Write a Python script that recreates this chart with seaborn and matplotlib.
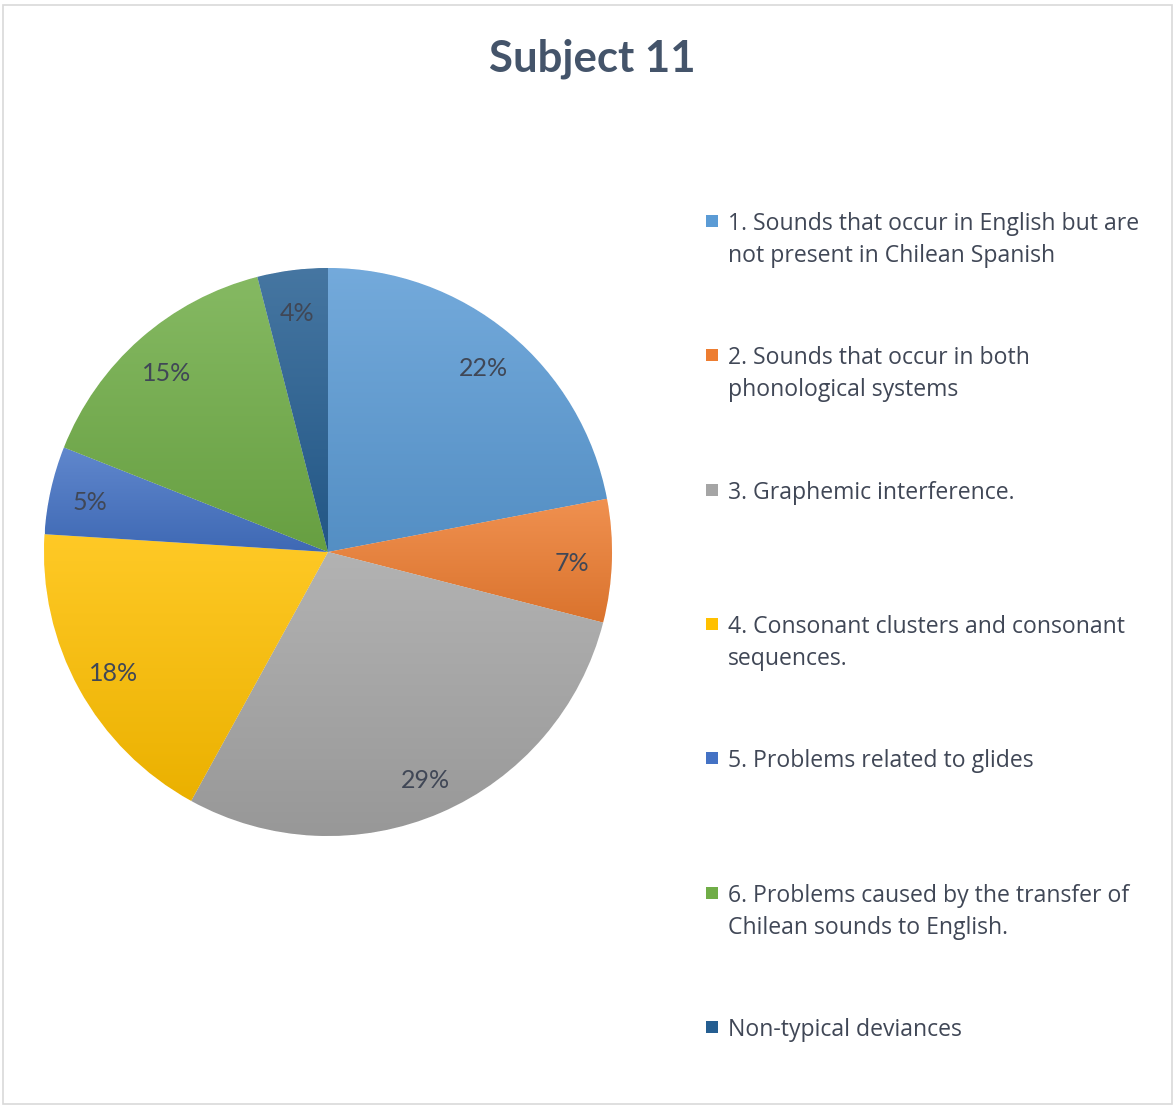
import matplotlib
matplotlib.use("Agg")
import matplotlib.pyplot as plt
import numpy as np
import seaborn as sns
from matplotlib.colors import to_rgb
from matplotlib.patches import Rectangle

categories = [
    "1. Sounds that occur in English but are\nnot present in Chilean Spanish",
    "2. Sounds that occur in both\nphonological systems",
    "3. Graphemic interference.",
    "4. Consonant clusters and consonant\nsequences.",
    "5. Problems related to glides",
    "6. Problems caused by the transfer of\nChilean sounds to English.",
    "Non-typical deviances",
]
shares = [22, 7, 29, 18, 5, 15, 4]
colors = ["#5B9BD5", "#ED7D31", "#A5A5A5", "#FFC000", "#4472C4", "#70AD47", "#255E91"]

TEXT = "#404756"
TITLE = "#44546A"

sns.set_theme(style="white")
plt.rcParams["font.family"] = ["Lato", "DejaVu Sans"]

W, H = 1175, 1107
fig = plt.figure(figsize=(W / 100, H / 100), dpi=100)

# pie area in pixels: centre (328, 552), radius 284
cx, cy, r = 328, 552, 284
ax = fig.add_axes([(cx - r) / W, (H - cy - r) / H, 2 * r / W, 2 * r / H])
wedges, _, autotexts = ax.pie(
    shares, colors=colors, startangle=90, counterclock=False,
    autopct="%1.0f%%", pctdistance=0.86, radius=1,
    wedgeprops=dict(edgecolor="white", linewidth=0.6),
    textprops=dict(color=TEXT, fontsize=18),
)
ax.set_xlim(-1, 1)
ax.set_ylim(-1, 1)
ax.set_aspect("equal")
ax.axis("off")


def shade(c, k):
    c = np.array(to_rgb(c))
    return np.clip(c + (1 - c) * k, 0, 1) if k > 0 else np.clip(c * (1 + k), 0, 1)


# vertical gradient per slice, lighter on top
for w, c in zip(wedges, colors):
    bb = w.get_path().get_extents(w.get_patch_transform())
    top, bot = shade(c, 0.15), shade(c, -0.08)
    t = np.linspace(0, 1, 256)[:, None, None]
    grad = top * (1 - t) + bot * t
    im = ax.imshow(grad, extent=[bb.x0, bb.x1, bb.y0, bb.y1], origin="upper",
                   aspect="auto", zorder=w.get_zorder(), interpolation="bilinear")
    im.set_clip_path(w)
for a in autotexts:
    a.set_zorder(5)
    x, y = a.get_position()
    a.set_position((x, y - 0.015))

fig.text(592 / W, 1 - 59 / H, "Subject 11", ha="center", va="center",
         fontsize=31.5, fontweight="bold", color=TITLE)

# legend
y0, step = 221, 134.3
for i, (lab, c) in enumerate(zip(categories, colors)):
    y = y0 + i * step
    fig.patches.append(Rectangle((706 / W, 1 - (y + 6) / H), 12 / W, 12 / H,
                                 transform=fig.transFigure, facecolor=c, edgecolor="none"))
    fig.text(728 / W, 1 - (y - 9) / H, lab, ha="left", va="top",
             fontsize=16.6, color=TEXT, linespacing=1.45, family=["Open Sans", "DejaVu Sans"])

fig.patches.append(Rectangle((3 / W, 3 / H), (W - 6) / W, (H - 8) / H,
                             transform=fig.transFigure, fill=False,
                             edgecolor="#D9D9D9", linewidth=1.2))

fig.savefig("out.png", dpi=100)
